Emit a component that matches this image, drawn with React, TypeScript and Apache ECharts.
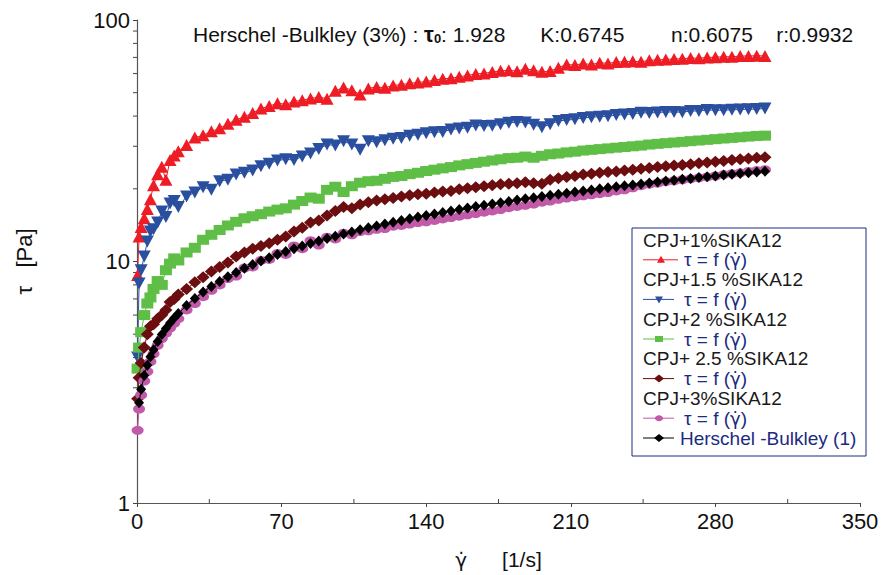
import React, { useEffect, useRef } from "react";
import * as echarts from "echarts";

// shear rate values (1/s)
const xs = [0.3, 1, 2, 3.5, 5, 6.5, 8, 10, 12, 14, 16, 18, 20,
  24, 28, 32, 36, 40, 44, 48, 52, 56, 60,
  64, 68, 72, 76, 80, 84, 88, 92, 96, 100,
  104, 108, 112, 116, 120, 124, 128, 132, 136, 140,
  144, 148, 152, 156, 160, 164, 168, 172, 176, 180,
  184, 188, 192, 196, 200, 204, 208, 212, 216, 220,
  224, 228, 232, 236, 240, 244, 248, 252, 256, 260,
  264, 268, 272, 276, 280, 284, 288, 292, 296, 300,
  304];

// shear stress (Pa)
const cpj1 = [8.8, 12.7, 13.9, 15.1, 16.5, 18.1, 20.7, 23.0, 24.7, 21.8, 26.3, 27.5, 28.6,
  30.4, 32.6, 33.3, 34.6, 35.6, 37.2, 38.6, 39.8, 41.2, 43.0,
  44.0, 45.2, 44.8, 46.0, 46.5, 47.3, 48.0, 47.2, 50.9, 52.6,
  51.2, 49.2, 52.1, 52.8, 52.4, 53.6, 54.0, 54.7, 55.1, 55.6,
  56.4, 57.1, 57.4, 58.2, 58.9, 59.8, 60.1, 60.9, 61.6, 61.9,
  61.4, 62.9, 62.0, 61.0, 61.5, 63.5, 65.4, 65.1, 66.0, 65.4,
  66.6, 66.1, 67.0, 67.2, 67.5, 67.1, 68.1, 68.4, 68.6, 69.0,
  69.1, 69.6, 69.4, 70.0, 70.1, 70.5, 70.4, 70.9, 71.0, 71.1,
  71.0];

const cpj15 = [4.0, 8.1, 9.2, 10.5, 12.1, 13.3, 13.6, 14.5, 16.1, 15.3, 17.4, 17.8, 16.8,
  18.6, 19.3, 20.3, 19.8, 21.5, 21.8, 22.9, 23.3, 23.8, 24.8,
  25.4, 26.2, 26.5, 26.3, 27.2, 28.0, 29.2, 30.5, 30.2, 31.5,
  30.5, 29.0, 31.5, 31.2, 31.8, 32.2, 32.5, 33.2, 33.5, 34.0,
  34.3, 34.4, 35.2, 35.5, 35.8, 36.6, 36.4, 36.5, 37.0, 37.5,
  37.8, 37.6, 36.8, 36.0, 37.0, 38.2, 38.5, 38.8, 39.3, 39.6,
  39.8, 39.9, 40.4, 40.6, 40.8, 41.3, 41.2, 41.4, 41.6, 41.6,
  41.5, 42.0, 42.0, 42.4, 42.3, 42.3, 42.5, 42.6, 42.7, 42.8,
  43.0];

const cpj2 = [3.6, 4.4, 5.1, 6.0, 6.7, 7.1, 7.7, 8.3, 8.0, 9.2, 9.8, 10.3, 10.1,
  10.9, 11.4, 12.3, 12.9, 13.5, 14.1, 14.6, 15.1, 15.4, 15.7,
  16.1, 16.4, 16.6, 17.2, 17.8, 18.4, 18.2, 19.8, 20.4, 19.4,
  20.5, 21.2, 21.5, 21.6, 22.0, 22.4, 22.6, 23.0, 23.3, 23.7,
  24.0, 24.3, 24.6, 25.0, 25.3, 25.6, 25.9, 26.2, 26.5, 26.8,
  26.9, 27.2, 26.9, 27.4, 27.8, 28.0, 28.3, 28.5, 28.8, 29.0,
  29.2, 29.4, 29.6, 29.8, 30.0, 30.2, 30.5, 30.7, 30.9, 31.1,
  31.3, 31.5, 31.7, 31.9, 32.1, 32.3, 32.5, 32.7, 32.9, 33.1,
  33.2];

const cpj25 = [2.7, 3.3, 3.8, 4.4, 5.0, 5.4, 5.5, 5.8, 6.0, 6.3, 6.8, 7.0, 7.3,
  7.7, 8.2, 8.6, 9.1, 9.5, 9.9, 10.5, 10.9, 11.3, 11.6,
  11.9, 12.3, 12.7, 13.3, 13.8, 14.5, 14.8, 15.5, 16.2, 16.8,
  16.6, 17.2, 17.6, 17.9, 18.1, 18.3, 18.6, 18.8, 19.0, 19.1,
  19.3, 19.5, 19.6, 19.9, 20.1, 20.3, 20.5, 20.7, 20.9, 21.0,
  21.1, 21.3, 21.1, 21.0, 21.8, 22.1, 22.4, 22.6, 22.9, 23.1,
  23.3, 23.5, 23.6, 23.8, 24.0, 24.2, 24.4, 24.6, 24.8, 25.0,
  25.1, 25.3, 25.5, 25.7, 25.9, 26.1, 26.3, 26.5, 26.7, 26.9,
  27.0];

const cpj3 = [2.0, 2.45, 2.8, 3.2, 3.5, 3.85, 4.15, 4.5, 4.8, 5.05, 5.3, 5.55, 5.8,
  6.3, 6.7, 7.15, 7.6, 8.0, 8.5, 8.7, 9.4, 9.5, 10.1,
  10.2, 10.8, 10.7, 11.6, 11.3, 12.2, 11.7, 12.6, 12.4, 13.1,
  12.9, 13.3, 13.4, 13.6, 13.7, 14.0, 14.1, 14.3, 14.5, 14.6,
  14.8, 15.0, 15.2, 15.4, 15.6, 15.8, 16.0, 16.2, 16.4, 16.7,
  16.9, 17.1, 17.3, 17.6, 17.8, 18.1, 18.3, 18.5, 18.7, 18.9,
  19.1, 19.3, 19.6, 19.8, 20.2, 20.6, 20.9, 21.1, 21.4, 21.6,
  21.8, 22.0, 22.2, 22.4, 22.6, 22.9, 23.1, 23.3, 23.6, 23.8,
  24.0];

const hbModel = [null, 2.60, 2.96, 3.37, 3.72, 4.03, 4.31, 4.66, 4.98, 5.28, 5.56, 5.83, 6.09,
  6.58, 7.03, 7.47, 7.88, 8.27, 8.65, 9.01, 9.37, 9.71, 10.04,
  10.37, 10.68, 10.99, 11.30, 11.59, 11.88, 12.17, 12.45, 12.72, 12.99,
  13.26, 13.52, 13.78, 14.04, 14.29, 14.54, 14.78, 15.03, 15.27, 15.50,
  15.74, 15.97, 16.20, 16.43, 16.65, 16.88, 17.10, 17.31, 17.53, 17.74,
  17.96, 18.17, 18.38, 18.58, 18.79, 18.99, 19.19, 19.40, 19.60, 19.79,
  19.99, 20.19, 20.38, 20.57, 20.76, 20.95, 21.14, 21.33, 21.52, 21.70,
  21.89, 22.07, 22.25, 22.43, 22.61, 22.79, 22.97, 23.15, 23.32, 23.50,
  23.67];

const seriesNames = ["CPJ+1%SIKA12", "CPJ+1.5 %SIKA12", "CPJ+2 %SIKA12", "CPJ+ 2.5 %SIKA12", "CPJ+3%SIKA12", "Herschel -Bulkley (1)"];
const seriesValues = [cpj1, cpj15, cpj2, cpj25, cpj3, hbModel];
const gammaDot = "γ̇";
const titleParts = ["Herschel -Bulkley (3%) : ", "τ", "0", ": 1.928      K:0.6745        n:0.6075    r:0.9932"];
const xTickValues = [0, 70, 140, 210, 280, 350];
const xMinorValues = [35, 105, 175, 245, 315];
const yMinorValues = [2, 3, 4, 5, 6, 7, 8, 9, 20, 30, 40, 50, 60, 70, 80, 90];

const FONT = "'Liberation Sans', Arial, sans-serif";
const GFONT = "'DejaVu Sans', sans-serif";
const colors = ["#ee1c25", "#2a4f9f", "#5fbe45", "#6c0d10", "#c15aa9", "#000000"];
const symbols = ["triangle", "triangle", "rect", "diamond", "circle", "diamond"];
const symbolSizes: any[] = [[13, 12], [13, 12], [12, 10], [13, 12], [12, 9], [10, 11]];
const rotations = [0, 180, 0, 0, 0, 0];
const NAVY = "#1c2a80";

function legendMarker(kind: number, cx: number, cy: number, color: string): any {
  const st = { fill: color };
  if (kind === 0) return { type: "polygon", shape: { points: [[cx - 4, cy + 3], [cx + 4, cy + 3], [cx, cy - 4]] }, style: st };
  if (kind === 1) return { type: "polygon", shape: { points: [[cx - 4, cy - 3], [cx + 4, cy - 3], [cx, cy + 4]] }, style: st };
  if (kind === 2) return { type: "rect", shape: { x: cx - 4, y: cy - 3, width: 8, height: 6 }, style: st };
  if (kind === 4) return { type: "ellipse", shape: { cx, cy, rx: 4, ry: 3 }, style: st };
  return { type: "polygon", shape: { points: [[cx - 5, cy], [cx, cy - 4], [cx + 5, cy], [cx, cy + 4]] }, style: st };
}

export default function App() {
  const ref = useRef<HTMLDivElement>(null);
  useEffect(() => {
    if (!ref.current) return;
    const chart = echarts.init(ref.current, null, { renderer: "svg" });

    const series: any[] = seriesValues.map((vals, i) => ({
      type: "line",
      name: seriesNames[i],
      data: xs.map((x, k) => [x, vals[k]]),
      symbol: symbols[i],
      symbolSize: symbolSizes[i],
      symbolRotate: rotations[i],
      lineStyle: { color: colors[i], width: 1 },
      itemStyle: { color: colors[i] },
      z: 3 + i,
    }));

    series.push({
      type: "custom",
      silent: true,
      clip: false,
      z: 2,
      data: [...yMinorValues.map((v) => [0, v, 0]), ...xMinorValues.map((v) => [v, 1, 1])],
      renderItem: (params: any, api: any) => {
        const p = api.coord([api.value(0), api.value(1)]);
        const kind = api.value(2);
        const shape = kind === 0
          ? { x1: p[0] - 4, y1: p[1], x2: p[0], y2: p[1] }
          : { x1: p[0], y1: p[1], x2: p[0], y2: p[1] - 4 };
        return { type: "line", shape, style: { stroke: "#444", lineWidth: 1 } };
      },
    });

    // legend built with graphic
    const lx = 632, ly = 228, lw = 234, lh = 228, step = 19.8;
    const gRich = { g: { fontFamily: GFONT, fontSize: 18, fill: NAVY } };
    const children: any[] = [
      { type: "rect", shape: { x: lx, y: ly, width: lw, height: lh }, style: { fill: "#fff", stroke: NAVY, lineWidth: 1 } },
    ];
    let row = 0;
    seriesNames.forEach((name, i) => {
      const isModel = i === seriesNames.length - 1;
      if (!isModel) {
        const ty = ly + 12 + row * step;
        children.push({ type: "text", style: { x: lx + 11, y: ty, text: name, fill: "#1a1a1a", font: `19px ${FONT}`, verticalAlign: "middle" } });
        row++;
      }
      const sy = ly + 12 + row * step;
      children.push({ type: "line", shape: { x1: lx + 11, y1: sy, x2: lx + (i === 0 ? 46 : 42), y2: sy }, style: { stroke: colors[i], lineWidth: 1 } });
      children.push(legendMarker(i, lx + (i === 0 ? 29 : 27), sy, colors[i]));
      children.push({
        type: "text",
        style: {
          x: lx + (isModel ? 48 : 52), y: sy,
          text: isModel ? name : `τ = f ({g|${gammaDot}})`,
          rich: gRich,
          fill: NAVY, font: `19px ${FONT}`, verticalAlign: "middle",
        },
      });
      row++;
    });

    chart.setOption({
      animation: false,
      backgroundColor: "#ffffff",
      title: {
        text: `${titleParts[0]}{b|${titleParts[1]}}{s|${titleParts[2]}}${titleParts[3]}`,
        left: 188,
        top: 18,
        textStyle: {
          fontSize: 21,
          fontWeight: "normal",
          color: "#111",
          fontFamily: FONT,
          rich: {
            b: { fontSize: 22, fontWeight: "bold", fontFamily: FONT, color: "#111" },
            s: { fontSize: 13, fontWeight: "bold", fontFamily: FONT, color: "#111", padding: [9, 0, 0, 0] },
          },
        },
      },
      grid: { left: 137, top: 20, width: 723, height: 483, containLabel: false },
      xAxis: {
        type: "value",
        min: xTickValues[0],
        max: xTickValues[xTickValues.length - 1],
        interval: 70,
        name: `{g|${gammaDot}}      [1/s]`,
        nameLocation: "middle",
        nameGap: 46,
        nameTextStyle: {
          fontSize: 21, color: "#111", fontFamily: FONT,
          rich: { g: { fontFamily: GFONT, fontSize: 20, color: "#111" } },
        },
        axisLine: { lineStyle: { color: "#555", width: 1.2 } },
        axisTick: { length: 4, lineStyle: { color: "#444" } },
        axisLabel: { fontSize: 22, color: "#111", fontFamily: FONT, margin: 7 },
        splitLine: { show: false },
      },
      yAxis: {
        type: "log",
        logBase: 10,
        min: 1,
        max: 100,
        name: "τ   [Pa]",
        nameLocation: "middle",
        nameGap: 102,
        nameRotate: 90,
        nameTextStyle: { fontSize: 22, color: "#111", fontFamily: FONT },
        axisLine: { show: true, lineStyle: { color: "#555", width: 1.2 } },
        axisTick: { length: 4, lineStyle: { color: "#444" } },
        axisLabel: { fontSize: 22, color: "#111", fontFamily: FONT, margin: 7 },
        splitLine: { show: false },
      },
      graphic: [{ type: "group", z: 100, children }],
      series,
    });
    return () => chart.dispose();
  }, []);
  return <div ref={ref} style={{ position: "fixed", left: 0, top: 0, width: 890, height: 575 }} />;
}
